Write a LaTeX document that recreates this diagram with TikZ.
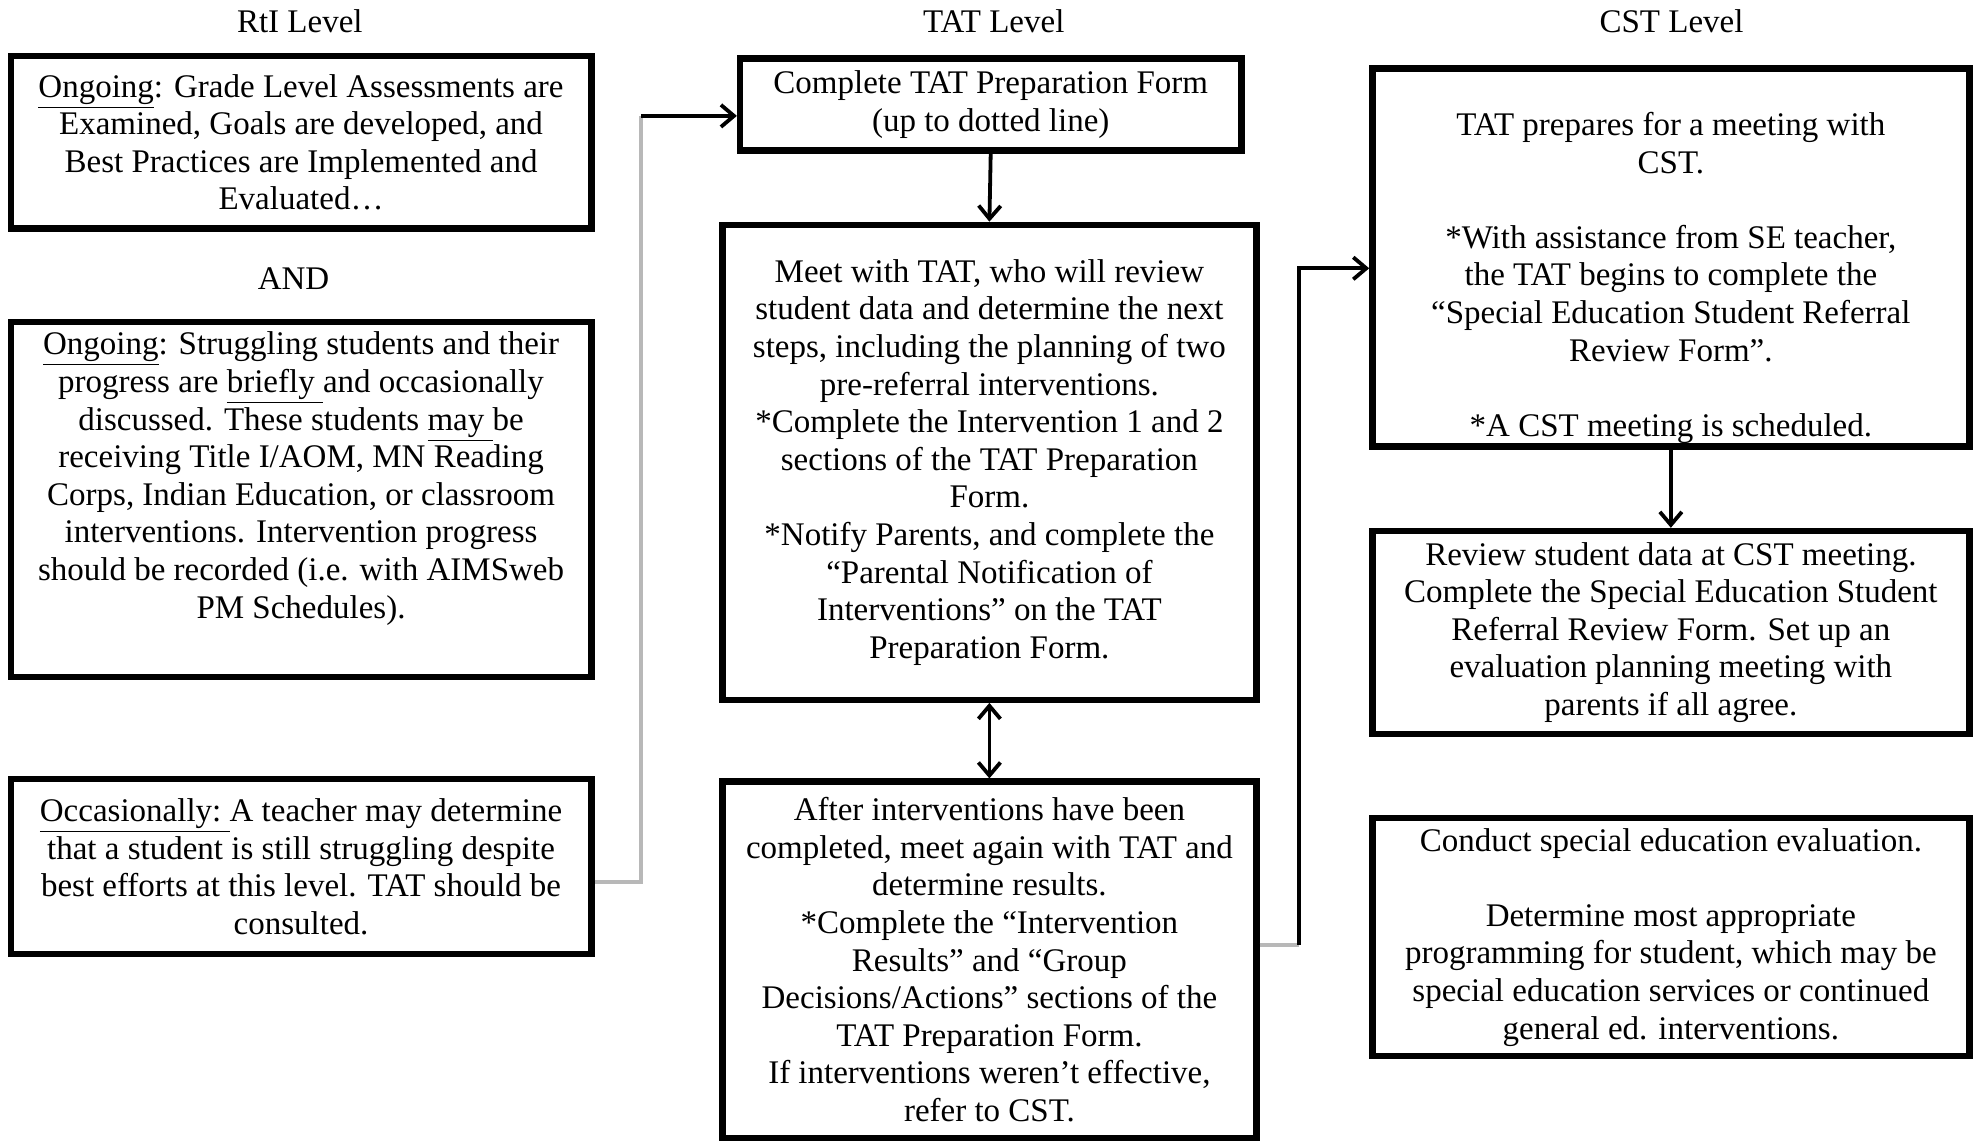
\documentclass[tikz,border=0pt]{standalone}
\usepackage{fontspec}
\setmainfont{Liberation Serif}
\usetikzlibrary{arrows.meta}
\newcommand\boxfont{\fontsize{16.5}{18.8}\selectfont}
\begin{document}
\begin{tikzpicture}[x=0.5pt,y=-0.5pt,
  box/.style={draw=black, line width=3.2pt, inner sep=0pt, align=center, font=\boxfont},
  title/.style={inner sep=0pt, font=\boxfont},
  arr/.style={line width=1.9pt, -{Straight Barb[length=6.5pt,width=11pt]}},
  darr/.style={line width=1.9pt, {Straight Barb[length=6.5pt,width=11pt]}-{Straight Barb[length=6.5pt,width=11pt]}},
  grayline/.style={line width=1.9pt, draw=black!28}]
\useasboundingbox (0,0) rectangle (1975,1144);

% titles
\node[title] (t1) at (299.8,21.4) {RtI Level};
\node[title] (t2) at (993.8,21.4) {TAT Level};
\node[title] (t3) at (1671.5,21.4) {CST Level};
\node[title] (and) at (293.5,278.4) {AND};

% RtI column
\node[box, minimum width=290.25pt, minimum height=86.25pt] (A) at (301.05,142.35)
 {\underline{Ongoing}: Grade Level Assessments are\\Examined, Goals are developed, and\\Best Practices are Implemented and\\Evaluated…};
\node[box, minimum width=290.25pt, minimum height=177.55pt] (B) at (301.05,499.45)
 {\underline{Ongoing}: Struggling students and their\\progress are \underline{briefly\ }and occasionally\\discussed. These students \underline{may\ }be\\receiving Title I/AOM, MN Reading\\Corps, Indian Education, or classroom\\interventions. Intervention progress\\should be recorded (i.e. with AIMSweb\\PM Schedules).\\\strut};
\node[box, minimum width=290.25pt, minimum height=87.5pt] (C) at (301.05,866.6)
 {\underline{Occasionally:\ }A teacher may determine\\that a student is still struggling despite\\best efforts at this level. TAT should be\\consulted.};

% TAT column
\node[box, minimum width=250.6pt, minimum height=45.95pt] (T1) at (990.7,104.55)
 {Complete TAT Preparation Form\\(up to dotted line)};
\node[box, minimum width=267pt, minimum height=237.4pt] (T2) at (989.4,462.3)
 {Meet with TAT, who will review\\student data and determine the next\\steps, including the planning of two\\pre-referral interventions.\\{}*Complete the Intervention 1 and 2\\sections of the TAT Preparation\\Form.\\{}*Notify Parents, and complete the\\“Parental Notification of\\Interventions” on the TAT\\Preparation Form.};
\node[box, minimum width=267pt, minimum height=178.2pt] (T3) at (989.4,959.8)
 {After interventions have been\\completed, meet again with TAT and\\determine results.\\{}*Complete the “Intervention\\Results” and “Group\\Decisions/Actions” sections of the\\TAT Preparation Form.\\If interventions weren’t effective,\\refer to CST.};

% CST column
\node[box, minimum width=298.45pt, minimum height=188.9pt] (S1) at (1670.85,257.6)
 {\strut\\TAT prepares for a meeting with\\CST.\\\strut\\{}*With assistance from SE teacher,\\the TAT begins to complete the\\“Special Education Student Referral\\Review Form”.\\\strut\\{}*A CST meeting is scheduled.};
\node[box, minimum width=298.45pt, minimum height=101.35pt] (S2) at (1670.85,632.35)
 {Review student data at CST meeting.\\Complete the Special Education Student\\Referral Review Form. Set up an\\evaluation planning meeting with\\parents if all agree.};
\node[box, minimum width=298.45pt, minimum height=118.95pt] (S3) at (1670.85,937.15)
 {Conduct special education evaluation.\\\strut\\Determine most appropriate\\programming for student, which may be\\special education services or continued\\general ed. interventions.};

% connectors
\coordinate (k1) at (641,881.7);
\coordinate (k2) at (641,115.9);
\coordinate (k3) at (1298.6,944.7);
\coordinate (k4) at (1298.6,268.3);

\draw[grayline] (C.east |- k1) -- (k1) -- (k2);
\draw[arr] (k2) -- (T1.west |- k2);
\draw[arr] (T1.south) -- (T2.north);
\draw[darr] (T2.south) -- (T3.north);
\draw[grayline] (T3.east |- k3) -- (k3);
\draw[arr] (k3) -- (k4) -- (S1.west |- k4);
\draw[arr] (S1.south) -- (S2.north);
\end{tikzpicture}
\end{document}
